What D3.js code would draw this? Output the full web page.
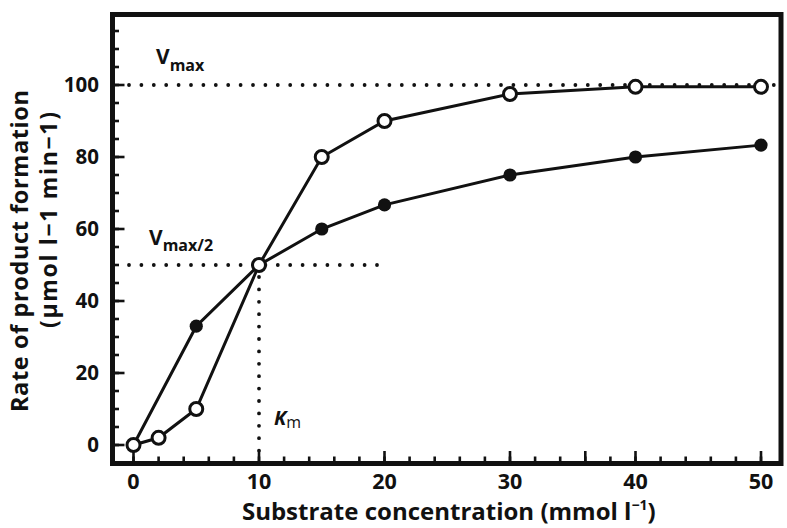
<!DOCTYPE html>
<html>
<head>
<meta charset="utf-8">
<script src="https://cdn.jsdelivr.net/npm/d3@7"></script>
<style>
  html, body { margin: 0; padding: 0; background: #fff; }
  svg { display: block; }
  text { font-family: "Open Sans", "DejaVu Sans", sans-serif; font-weight: 700; fill: #111; }
</style>
</head>
<body>
<svg id="chart" width="787" height="528"></svg>
<script>
// ---- data ----
const substrate = [0, 2, 5, 10, 15, 20, 30, 40, 50];
const sigmoidRate = [0, 2, 10, 50, 80, 90, 97.5, 99.5, 99.5];       // open circles
const hyperX = [0, 5, 10, 15, 20, 30, 40, 50];
const hyperRate = [0, 33, 50, 60, 66.7, 75, 80, 83.3];               // filled circles
const xTickLabels = [0, 10, 20, 30, 40, 50];
const xMinorTicks = d3.range(0, 51, 2);
const xLongTicks = [0, 10, 20, 30, 36, 40, 50];
const yTickLabels = [0, 20, 40, 60, 80, 100];
const yMinorTicks = d3.range(0, 116, 5);
const vmax = 100;
const km = 10;
const halfLineEndX = 20;

// ---- layout ----
const svg = d3.select("#chart");
const frame = { left: 112.5, right: 781, top: 14.5, bottom: 463.5 };
const x = d3.scaleLinear().domain([0, 50]).range([133.5, 761]);
const y = d3.scaleLinear().domain([0, 100]).range([445, 85]);

// guide lines (dotted)
const dotted = (sel) => sel.attr("stroke", "#111").attr("stroke-width", 3.8)
  .attr("stroke-linecap", "round").attr("stroke-dasharray", "0 12.4").attr("fill", "none");

svg.append("line").call(dotted)
  .attr("x1", frame.left + 16.5).attr("x2", frame.right - 2)
  .attr("y1", y(vmax)).attr("y2", y(vmax));
svg.append("line").call(dotted)
  .attr("x1", frame.left + 16.5).attr("x2", x(halfLineEndX))
  .attr("y1", y(vmax / 2)).attr("y2", y(vmax / 2));
svg.append("line").call(dotted)
  .attr("x1", x(km)).attr("x2", x(km))
  .attr("y1", y(vmax / 2) + 12).attr("y2", frame.bottom - 4);

// frame
svg.append("rect")
  .attr("x", frame.left).attr("y", frame.top)
  .attr("width", frame.right - frame.left).attr("height", frame.bottom - frame.top)
  .attr("fill", "none").attr("stroke", "#111").attr("stroke-width", 5);

// ticks (pointing inward)
const tickG = svg.append("g").attr("stroke", "#111").attr("stroke-width", 2.6);
tickG.selectAll(".xm").data(xMinorTicks).join("line")
  .attr("x1", d => x(d)).attr("x2", d => x(d))
  .attr("y1", frame.bottom).attr("y2", frame.bottom - 7);
tickG.selectAll(".xM").data(xLongTicks).join("line")
  .attr("x1", d => x(d)).attr("x2", d => x(d))
  .attr("y1", frame.bottom).attr("y2", frame.bottom - 12.5);
tickG.selectAll(".ym").data(yMinorTicks).join("line")
  .attr("x1", frame.left).attr("x2", frame.left + 6.5)
  .attr("y1", d => y(d)).attr("y2", d => y(d));
tickG.selectAll(".yM").data(yTickLabels).join("line")
  .attr("x1", frame.left).attr("x2", frame.left + 12)
  .attr("y1", d => y(d)).attr("y2", d => y(d));

// tick labels
svg.selectAll(".xl").data(xTickLabels).join("text")
  .attr("x", d => x(d)).attr("y", 489)
  .attr("text-anchor", "middle").attr("font-size", 21.5)
  .text(d => d);
svg.selectAll(".yl").data(yTickLabels).join("text")
  .attr("x", 99).attr("y", d => y(d)).attr("dy", "0.36em")
  .attr("text-anchor", "end").attr("font-size", 20.5)
  .text(d => d);

// series lines
const line = d3.line().x(d => x(d[0])).y(d => y(d[1]));
const hyperPts = hyperX.map((d, i) => [d, hyperRate[i]]);
const sigPts = substrate.map((d, i) => [d, sigmoidRate[i]]);
svg.append("path").datum(hyperPts).attr("d", line)
  .attr("fill", "none").attr("stroke", "#111").attr("stroke-width", 3);
svg.append("path").datum(sigPts).attr("d", line)
  .attr("fill", "none").attr("stroke", "#111").attr("stroke-width", 3);

// markers
svg.selectAll(".hp").data(hyperPts).join("circle")
  .attr("cx", d => x(d[0])).attr("cy", d => y(d[1])).attr("r", 6.6)
  .attr("fill", "#111");
svg.selectAll(".sp").data(sigPts).join("circle")
  .attr("cx", d => x(d[0])).attr("cy", d => y(d[1])).attr("r", 6.5)
  .attr("fill", "#fff").attr("stroke", "#111").attr("stroke-width", 3);

// annotations
const vmaxT = svg.append("text").attr("x", 156).attr("y", 64).attr("font-size", 21).attr("font-weight", 600);
vmaxT.append("tspan").text("V");
vmaxT.append("tspan").attr("dy", 7).attr("font-size", 16).text("max");

const vhalfT = svg.append("text").attr("x", 149).attr("y", 245).attr("font-size", 21).attr("font-weight", 600);
vhalfT.append("tspan").text("V");
vhalfT.append("tspan").attr("dy", 6).attr("font-size", 16).text("max/2");

const kmT = svg.append("text").attr("x", 274).attr("y", 425).attr("font-size", 20).attr("font-weight", 600);
kmT.append("tspan").attr("font-style", "italic").text("K");
kmT.append("tspan").attr("dy", 3).attr("font-size", 16).attr("font-weight", 400).text("m");

// axis titles
const xt = svg.append("text").attr("x", (frame.left + frame.right) / 2 + 2).attr("y", 520)
  .attr("text-anchor", "middle").attr("font-size", 24);
xt.append("tspan").text("Substrate concentration (mmol  l");
xt.append("tspan").attr("dy", -10).attr("font-size", 14).text("−1");
xt.append("tspan").attr("dy", 10).text(")");

svg.append("text").attr("transform", "translate(28,251) rotate(-90)")
  .attr("text-anchor", "middle").attr("font-size", 23.5)
  .attr("textLength", 322).attr("lengthAdjust", "spacing")
  .text("Rate of product formation");
svg.append("text").attr("transform", "translate(57,220) rotate(-90)")
  .attr("text-anchor", "middle").attr("font-size", 23)
  .attr("textLength", 216).attr("lengthAdjust", "spacing")
  .text("(μmol l−1 min−1)");
</script>
</body>
</html>
